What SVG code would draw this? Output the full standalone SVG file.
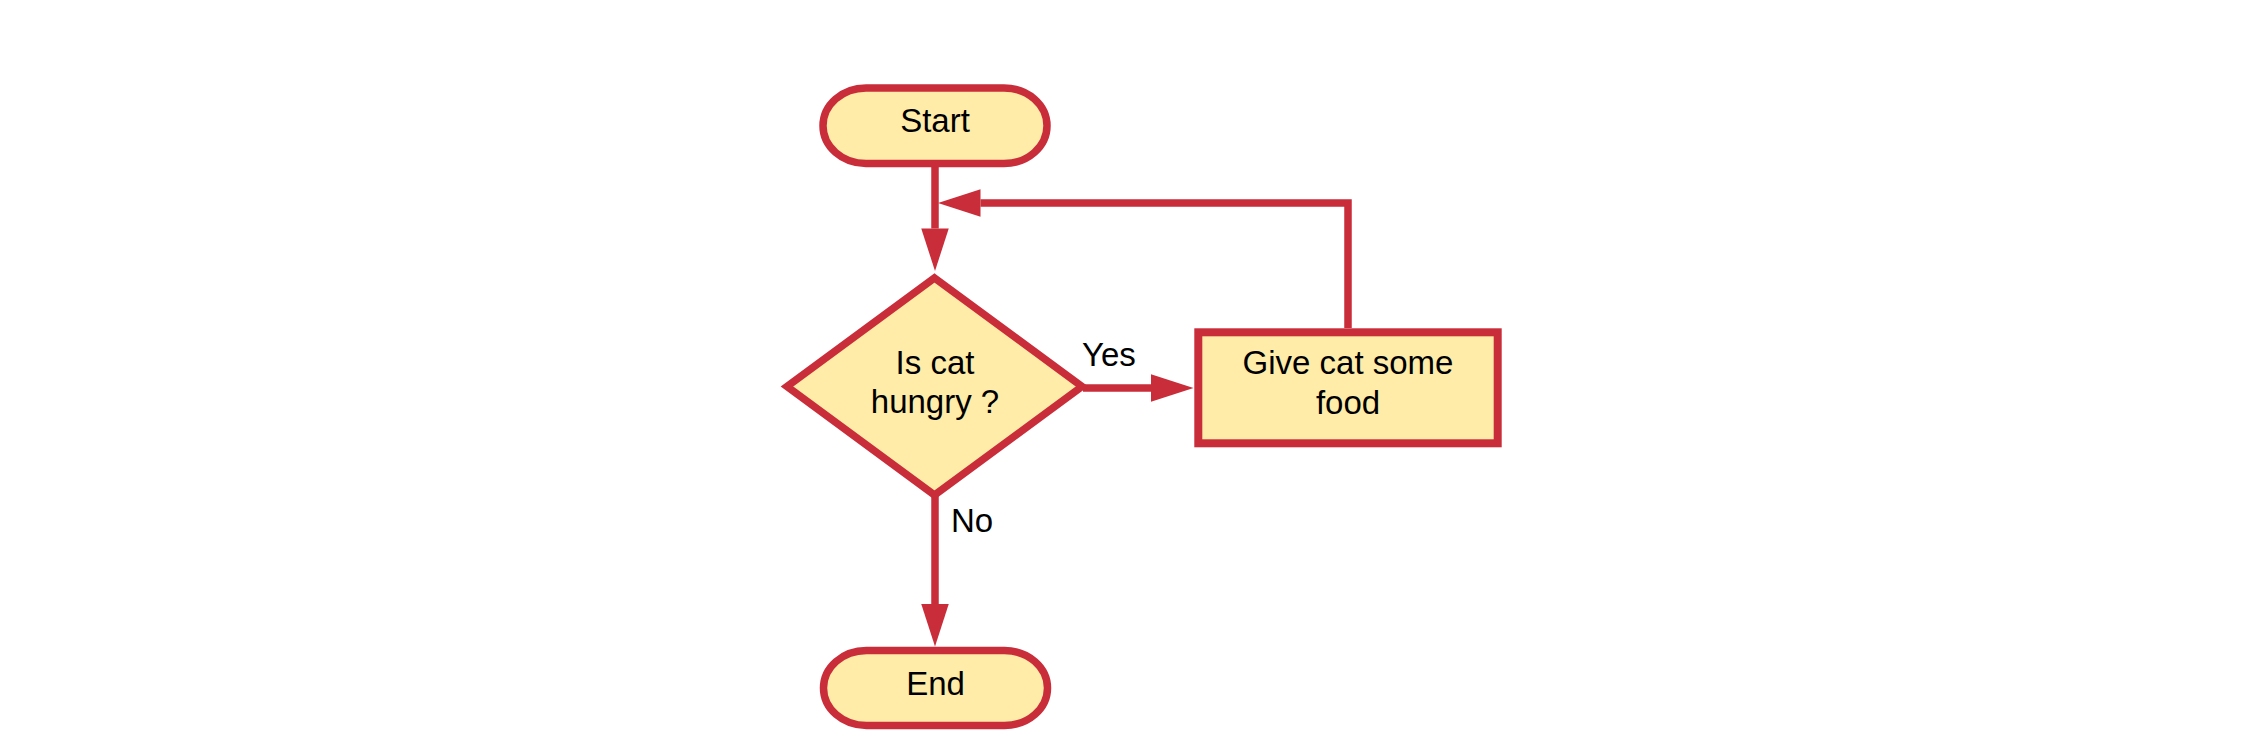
<svg xmlns="http://www.w3.org/2000/svg" width="2244" height="756" viewBox="0 0 2244 756">
<style>
.shape{fill:#FFECA9;stroke:#C92D39;stroke-width:7.5}
.rect{stroke-width:8}
.lbl{font-family:"Liberation Sans",Arial,sans-serif;font-size:33px;fill:#000}
.c{text-anchor:middle}
.conn{fill:none;stroke:#C92D39;stroke-width:7.5;stroke-linejoin:miter}
</style>
<defs>
<marker id="arr" markerUnits="userSpaceOnUse" markerWidth="43" markerHeight="28" refX="0" refY="13.75" orient="auto" overflow="visible">
<path d="M0,0 L42.5,13.75 L0,27.5 z" fill="#C92D39"/>
</marker>
</defs>
<rect width="2244" height="756" fill="#fff"/>
<g id="connectors">
<path class="conn" d="M935,167 V228.5" marker-end="url(#arr)"/>
<path class="conn" d="M1083,388 H1151" marker-end="url(#arr)"/>
<path class="conn" d="M1348,328 V203 H980.5" marker-end="url(#arr)"/>
<path class="conn" d="M935,495 V604" marker-end="url(#arr)"/>
<text class="lbl" x="1082" y="366">Yes</text>
<text class="lbl" x="951" y="532">No</text>
</g>
<g id="start">
<rect class="shape" x="823" y="88" width="224" height="75.5" rx="43" ry="37.75"/>
<text class="lbl c" x="935" y="132">Start</text>
</g>
<g id="decision">
<polygon class="shape" points="934.5,278 1082,386.5 934.5,495 787,386.5"/>
<text class="lbl c" x="935" y="373.5">Is cat</text>
<text class="lbl c" x="935" y="413">hungry ?</text>
</g>
<g id="feed">
<rect class="shape rect" x="1198.3" y="332.3" width="299.4" height="111"/>
<text class="lbl c" x="1348" y="374">Give cat some</text>
<text class="lbl c" x="1348" y="413.5">food</text>
</g>
<g id="end">
<rect class="shape" x="823.5" y="650.5" width="224" height="75" rx="43" ry="37.5"/>
<text class="lbl c" x="935.5" y="695">End</text>
</g>
</svg>
